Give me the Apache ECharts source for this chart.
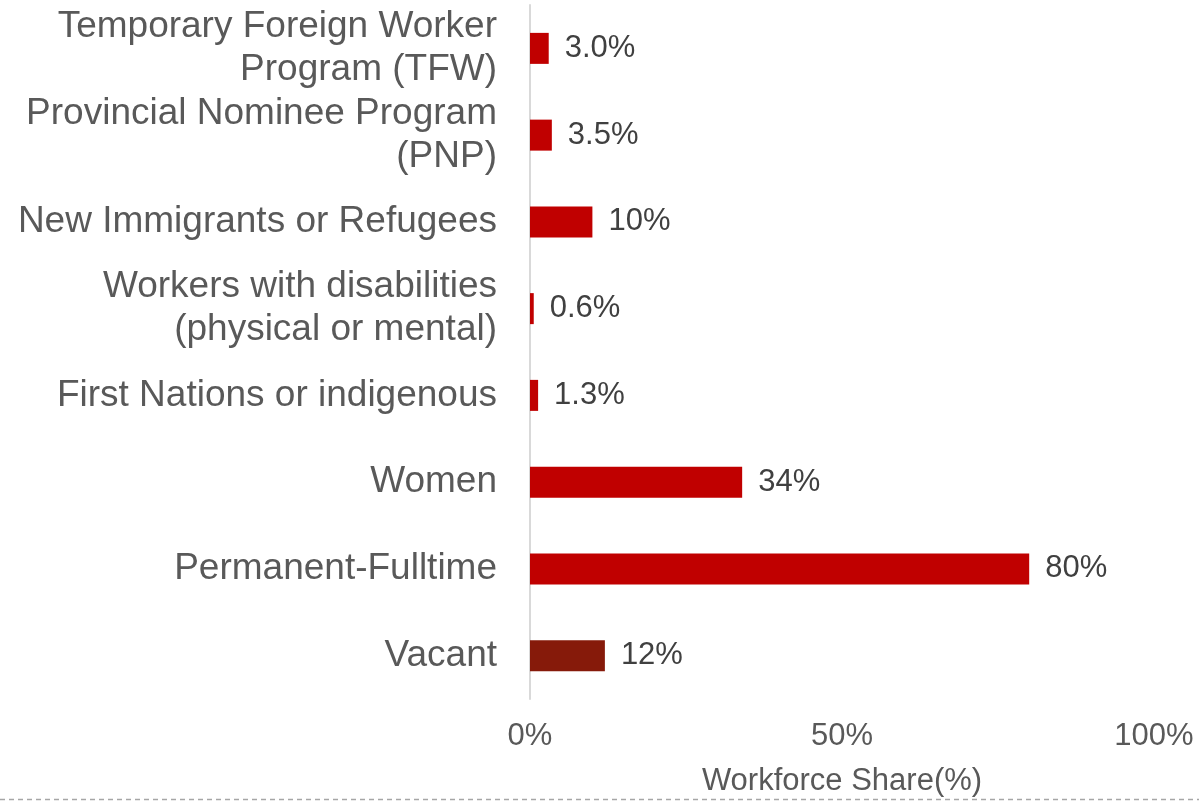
<!DOCTYPE html>
<html>
<head>
<meta charset="utf-8">
<script src="https://cdn.jsdelivr.net/npm/echarts@6/dist/echarts.min.js"></script>
<style>
  html, body { margin: 0; padding: 0; background: #fff; }
  #main { width: 1199px; height: 802px; }
</style>
</head>
<body>
<div id="main"></div>
<script>
var categories = [
  "Temporary Foreign Worker\nProgram (TFW)",
  "Provincial Nominee Program\n(PNP)",
  "New Immigrants or Refugees",
  "Workers with disabilities\n(physical or mental)",
  "First Nations or indigenous",
  "Women",
  "Permanent-Fulltime",
  "Vacant"
];
var shares = [3.0, 3.5, 10, 0.6, 1.3, 34, 80, 12];
var shareLabels = ["3.0%", "3.5%", "10%", "0.6%", "1.3%", "34%", "80%", "12%"];
var xTicks = [0, 50, 100];

window.onload = function () {
  var myChart = echarts.init(document.getElementById("main"));
  var font = "Liberation Sans, Arial, sans-serif";

  // Vacant gets the darker red
  var barData = shares.map(function (v, i) {
    return {
      value: v,
      itemStyle: { color: categories[i] === "Vacant" ? "#861A0A" : "#C00000" }
    };
  });

  var option = {
    backgroundColor: "#ffffff",
    animation: false,
    grid: { left: 530, right: 45, top: 5, bottom: 99 },
    xAxis: {
      type: "value",
      min: xTicks[0],
      max: xTicks[xTicks.length - 1],
      interval: xTicks[1] - xTicks[0],
      name: "Workforce Share(%)",
      nameLocation: "middle",
      nameGap: 67,
      nameTextStyle: { fontFamily: font, fontSize: 31, color: "#595959" },
      axisLine: { show: false },
      axisTick: { show: false },
      splitLine: { show: false },
      axisLabel: {
        fontFamily: font,
        fontSize: 31,
        color: "#595959",
        margin: 22,
        formatter: "{value}%"
      }
    },
    yAxis: {
      type: "category",
      data: categories,
      inverse: true,
      axisLine: { show: true, lineStyle: { color: "#d9d9d9", width: 2 } },
      axisTick: { show: false },
      axisLabel: {
        fontFamily: font,
        fontSize: 37,
        lineHeight: 43,
        color: "#595959",
        margin: 33,
        align: "right"
      }
    },
    series: [
      {
        type: "bar",
        data: barData,
        barWidth: 31,
        label: {
          show: true,
          position: "right",
          distance: 16,
          fontFamily: font,
          fontSize: 31,
          color: "#404040",
          formatter: function (p) { return shareLabels[p.dataIndex]; }
        }
      }
    ],
    graphic: [
      {
        type: "line",
        shape: { x1: 0, y1: 799.5, x2: 1199, y2: 799.5 },
        style: { stroke: "#a6a6a6", lineWidth: 1.5, lineDash: [5, 4] }
      }
    ]
  };

  myChart.setOption(option);
};
</script>
</body>
</html>
